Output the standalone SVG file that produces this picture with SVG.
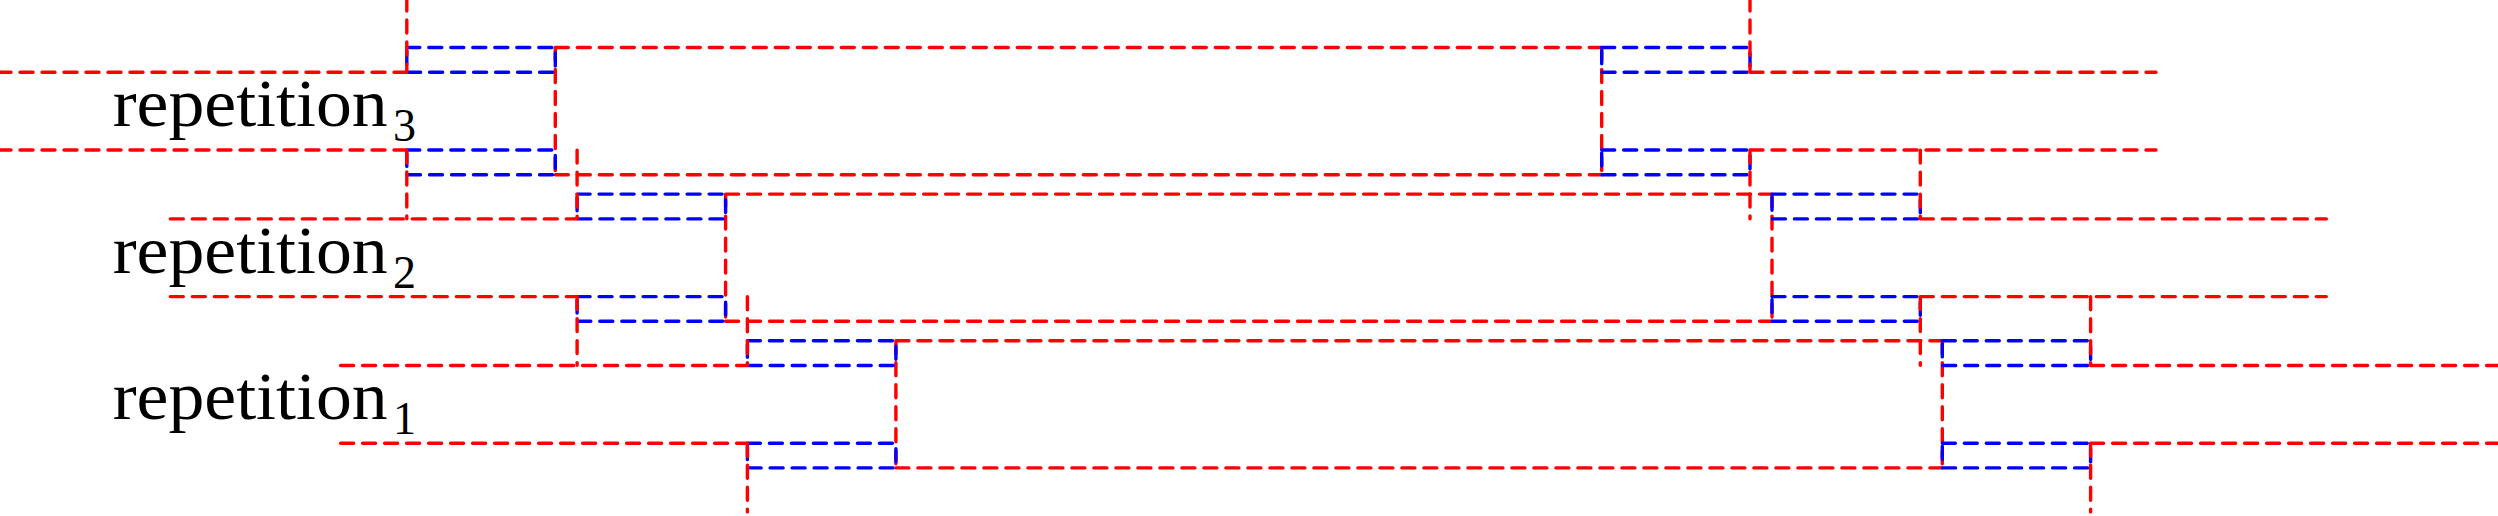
<svg xmlns="http://www.w3.org/2000/svg" width="2498" height="516" viewBox="0 0 2498 516">
<style>
.r{fill:none;stroke:#ff0000;stroke-width:3.4;stroke-dasharray:13 9;stroke-linecap:round}
.b{fill:none;stroke:#0000ff;stroke-width:3.4;stroke-dasharray:13 9;stroke-linecap:round}
.t{font-family:"Liberation Serif","DejaVu Serif",serif;font-size:68px;fill:#000}
.s{font-family:"Liberation Serif","DejaVu Serif",serif;font-size:46px;fill:#000}
</style>
<rect width="2498" height="516" fill="#fff"/>
<g id="rep3">
<path class="r" d="M555.3 47.5H1601.7M555.3 174.7H1601.7M555.3 47.5V174.7M1601.7 47.5V174.7"/>
<path class="b" d="M406.8 47.5H555.3V72.3H406.8ZM406.8 150H555.3V174.7H406.8ZM1601.7 47.5H1750V72.3H1601.7ZM1601.7 150H1750V174.7H1601.7Z"/>
<path class="r" d="M-2 72.3H406.8M-2 150H406.8M1750 72.3H2156M1750 150H2156M406.8 -2V72.3M406.8 150V218.7M1750 -2V72.3M1750 150V218.7"/>
<text class="t" x="112.7" y="126" textLength="275" lengthAdjust="spacingAndGlyphs">repetition</text>
<text class="s" x="393" y="141">3</text>
</g>
<g id="rep2">
<path class="r" d="M725.6 194.1H1772M725.6 321.3H1772M725.6 194.1V321.3M1772 194.1V321.3"/>
<path class="b" d="M577.1 194.1H725.6V218.9H577.1ZM577.1 296.6H725.6V321.3H577.1ZM1772 194.1H1920.3V218.9H1772ZM1772 296.6H1920.3V321.3H1772Z"/>
<path class="r" d="M170.3 218.9H577.1M170.3 296.6H577.1M1920.3 218.9H2326.3M1920.3 296.6H2326.3M577.1 150.1V218.9M577.1 296.6V365.3M1920.3 150.1V218.9M1920.3 296.6V365.3"/>
<text class="t" x="112.7" y="272.5" textLength="275" lengthAdjust="spacingAndGlyphs">repetition</text>
<text class="s" x="393" y="287.5">2</text>
</g>
<g id="rep1">
<path class="r" d="M895.9 340.7H1942.3M895.9 467.9H1942.3M895.9 340.7V467.9M1942.3 340.7V467.9"/>
<path class="b" d="M747.4 340.7H895.9V365.5H747.4ZM747.4 443.2H895.9V467.9H747.4ZM1942.3 340.7H2090.6V365.5H1942.3ZM1942.3 443.2H2090.6V467.9H1942.3Z"/>
<path class="r" d="M340.6 365.5H747.4M340.6 443.2H747.4M2090.6 365.5H2502M2090.6 443.2H2502M747.4 296.7V365.5M747.4 443.2V511.9M2090.6 296.7V365.5M2090.6 443.2V511.9"/>
<text class="t" x="112.7" y="418.5" textLength="275" lengthAdjust="spacingAndGlyphs">repetition</text>
<text class="s" x="393" y="433.5">1</text>
</g>
</svg>
